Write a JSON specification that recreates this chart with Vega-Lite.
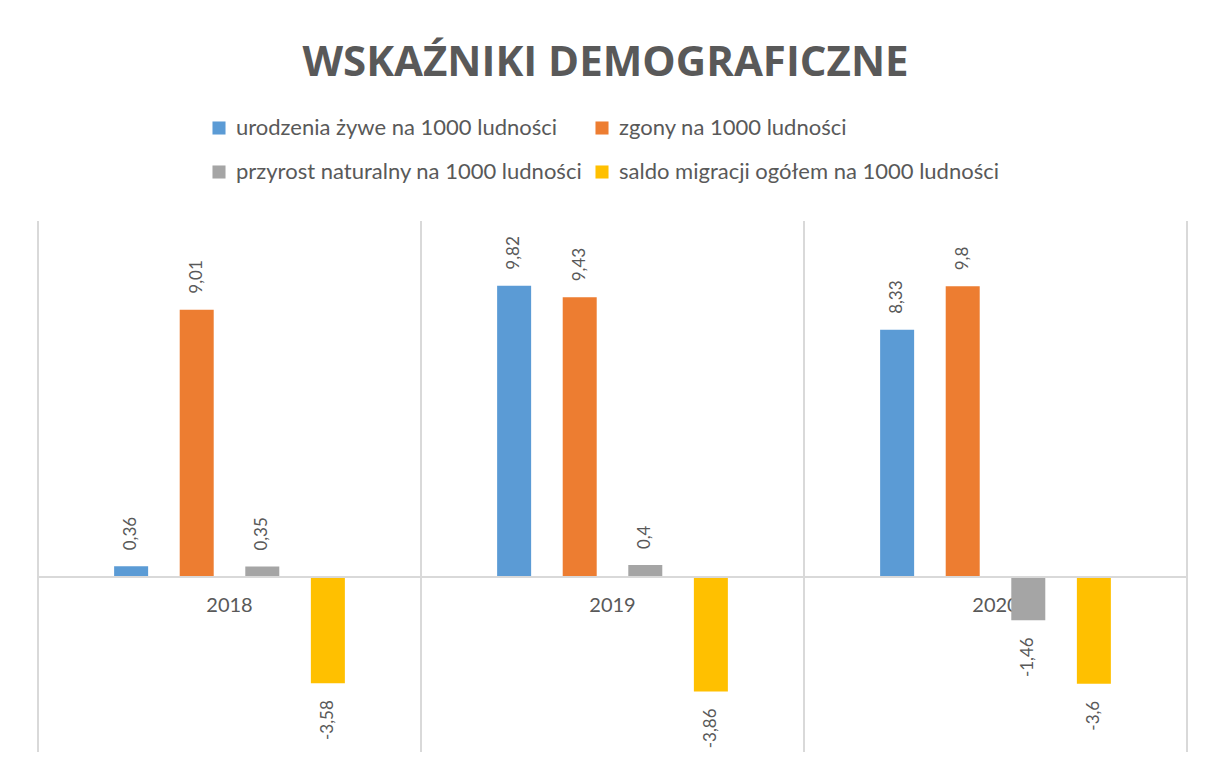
{
  "$schema": "https://vega.github.io/schema/vega-lite/v6.json",
  "width": 1149,
  "height": 531,
  "autosize": {"type": "none"},
  "padding": {"left": 38, "top": 221, "right": 18, "bottom": 24},
  "background": "white",
  "title": {
    "text": "WSKAŹNIKI DEMOGRAFICZNE",
    "font": "Open Sans",
    "fontSize": 42,
    "fontWeight": "bold",
    "color": "#595959",
    "anchor": "middle",
    "offset": 32,
    "dx": -7
  },
  "config": {
    "view": {"stroke": null},
    "font": "Lato"
  },
  "data": {
    "values": [
      {"year": "2018", "series": "urodzenia żywe na 1000 ludności", "value": 0.36, "label": "0,36"},
      {"year": "2018", "series": "zgony na 1000 ludności", "value": 9.01, "label": "9,01"},
      {"year": "2018", "series": "przyrost naturalny na 1000 ludności", "value": 0.35, "label": "0,35"},
      {"year": "2018", "series": "saldo migracji ogółem na 1000 ludności", "value": -3.58, "label": "-3,58"},
      {"year": "2019", "series": "urodzenia żywe na 1000 ludności", "value": 9.82, "label": "9,82"},
      {"year": "2019", "series": "zgony na 1000 ludności", "value": 9.43, "label": "9,43"},
      {"year": "2019", "series": "przyrost naturalny na 1000 ludności", "value": 0.4, "label": "0,4"},
      {"year": "2019", "series": "saldo migracji ogółem na 1000 ludności", "value": -3.86, "label": "-3,86"},
      {"year": "2020", "series": "urodzenia żywe na 1000 ludności", "value": 8.33, "label": "8,33"},
      {"year": "2020", "series": "zgony na 1000 ludności", "value": 9.8, "label": "9,8"},
      {"year": "2020", "series": "przyrost naturalny na 1000 ludności", "value": -1.46, "label": "-1,46"},
      {"year": "2020", "series": "saldo migracji ogółem na 1000 ludności", "value": -3.6, "label": "-3,6"}
    ]
  },
  "layer": [
    {
      "mark": {"type": "bar", "width": 34},
      "encoding": {
        "x": {
          "field": "year",
          "type": "nominal",
          "scale": {"paddingInner": 0, "paddingOuter": 0},
          "axis": {
            "title": null,
            "labelAngle": 0,
            "domain": false,
            "ticks": false,
            "grid": false,
            "offset": -175,
            "labelPadding": 18,
            "labelFontSize": 20,
            "labelColor": "#595959",
            "labelFont": "Lato"
          }
        },
        "xOffset": {
          "field": "series",
          "type": "nominal",
          "scale": {
            "domain": ["urodzenia żywe na 1000 ludności", "zgony na 1000 ludności", "przyrost naturalny na 1000 ludności", "saldo migracji ogółem na 1000 ludności"],
            "paddingInner": 0,
            "paddingOuter": 0.92
          }
        },
        "y": {
          "field": "value",
          "type": "quantitative",
          "scale": {"domain": [-5.9, 12], "nice": false, "zero": false},
          "axis": null
        },
        "color": {
          "field": "series",
          "type": "nominal",
          "scale": {
            "domain": ["urodzenia żywe na 1000 ludności", "zgony na 1000 ludności", "przyrost naturalny na 1000 ludności", "saldo migracji ogółem na 1000 ludności"],
            "range": ["#5B9BD5", "#ED7D31", "#A5A5A5", "#FFC000"]
          },
          "legend": {
            "title": null,
            "orient": "none",
            "legendX": 170,
            "legendY": -104,
            "direction": "horizontal",
            "columns": 2,
            "symbolType": "square",
            "symbolSize": 170,
            "symbolStrokeWidth": 0,
            "labelFontSize": 22,
            "labelColor": "#595959",
            "labelFont": "Lato",
            "labelLimit": 500,
            "labelOffset": 6,
            "rowPadding": 22,
            "columnPadding": 8
          }
        }
      }
    },
    {
      "mark": {"type": "rule", "color": "#d9d9d9", "strokeWidth": 1.5},
      "encoding": {
        "x": {"field": "year", "type": "nominal", "bandPosition": 0}
      }
    },
    {
      "transform": [{"filter": "datum.year == '2020'"}],
      "mark": {"type": "rule", "color": "#d9d9d9", "strokeWidth": 1.5},
      "encoding": {
        "x": {"field": "year", "type": "nominal", "bandPosition": 1}
      }
    },
    {
      "mark": {"type": "rule", "color": "#d9d9d9", "strokeWidth": 1.5},
      "encoding": {
        "y": {"datum": 0, "type": "quantitative"}
      }
    },
    {
      "transform": [{"filter": "datum.value >= 0"}],
      "mark": {"type": "text", "angle": 270, "align": "left", "baseline": "middle", "dx": 16, "fontSize": 17, "color": "#595959", "font": "Lato"},
      "encoding": {
        "x": {"field": "year", "type": "nominal"},
        "xOffset": {"field": "series", "type": "nominal"},
        "y": {"field": "value", "type": "quantitative"},
        "text": {"field": "label"}
      }
    },
    {
      "transform": [{"filter": "datum.value < 0"}],
      "mark": {"type": "text", "angle": 270, "align": "right", "baseline": "middle", "dx": -17, "fontSize": 17, "color": "#595959", "font": "Lato"},
      "encoding": {
        "x": {"field": "year", "type": "nominal"},
        "xOffset": {"field": "series", "type": "nominal"},
        "y": {"field": "value", "type": "quantitative"},
        "text": {"field": "label"}
      }
    }
  ]
}
